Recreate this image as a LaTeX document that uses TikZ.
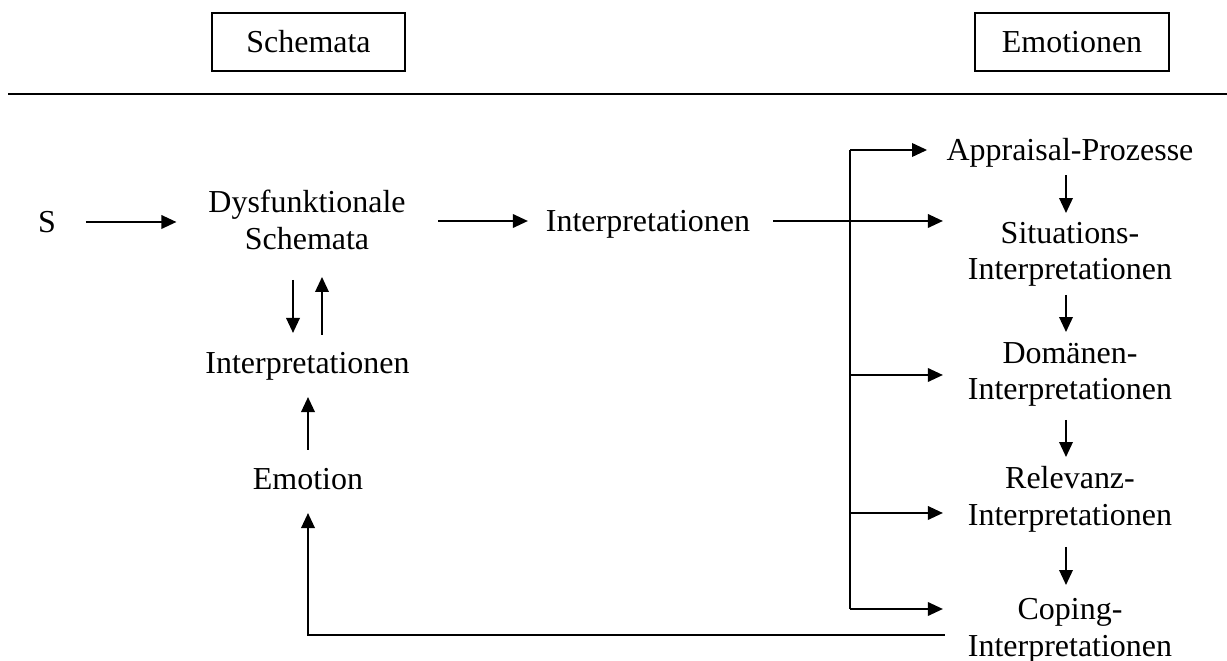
\documentclass[tikz,border=0pt]{standalone}
\usepackage{fontspec}
\setmainfont{Liberation Serif}
\usetikzlibrary{arrows.meta}
\newcommand\myline[1]{\raisebox{0pt}[12pt][0pt]{#1}}
\begin{document}
\begin{tikzpicture}[x=0.02cm,y=-0.02cm,
  txt/.style={inner sep=0pt, outer sep=0pt, align=center, font=\fontsize{18.2}{21}\selectfont},
  hdr/.style={txt, draw, line width=1.1pt, minimum height=1.16cm},
  ln/.style={line width=1.1pt},
  arr/.style={ln, -{Triangle[length=0.3cm,width=0.27cm]}}]
\useasboundingbox (0,0) rectangle (1227,661);

% header
\node[hdr, minimum width=3.86cm] (hs) at (308.5,42) {\myline{Schemata}};
\node[hdr, minimum width=3.88cm] (he) at (1072,42) {\myline{Emotionen}};
\coordinate (rl) at (8,94);
\coordinate (rr) at (1227,94);
\draw[line width=1.4pt] (rl) -- (rr);

% nodes
\node[txt] (S) at (47,222) {\myline{S}};
\node[txt] (dys) at (307,220.5) {\myline{Dysfunktionale}\\\myline{Schemata}};
\node[txt] (intm) at (648,221) {\myline{Interpretationen}};
\node[txt] (intl) at (307.5,363) {\myline{Interpretationen}};
\node[txt] (emo) at (308,479) {\myline{Emotion}};
\node[txt] (app) at (1070,150) {\myline{Appraisal-Prozesse}};
\node[txt] (sit) at (1070,251) {\myline{Situations-}\\\myline{Interpretationen}};
\node[txt] (dom) at (1070,371) {\myline{Domänen-}\\\myline{Interpretationen}};
\node[txt] (rel) at (1070,496.5) {\myline{Relevanz-}\\\myline{Interpretationen}};
\node[txt] (cop) at (1070,627.5) {\myline{Coping-}\\\myline{Interpretationen}};

% main row
\draw[arr, shorten <=0.6cm, shorten >=0.64cm] (S.east) -- (S.east -| dys.west);
\draw[arr, shorten <=0.65cm, shorten >=0.36cm] (dys.east |- intm.west) -- (intm.west);
\draw[arr, shorten <=0.46cm, shorten >=0.5cm] (intm.east) -- (intm.east -| sit.west);

% branch
\coordinate (bx) at (850,221);
\coordinate (tapp) at (app.west);
\coordinate (tdom) at ([yshift=-0.08cm]dom.west);
\coordinate (trel) at ([yshift=-0.33cm]rel.west);
\coordinate (tcop) at ([yshift=0.37cm]cop.west);
\draw[ln] (bx |- tapp) -- (bx |- tcop);
\draw[arr, shorten >=0.39cm] (bx |- tapp) -- (tapp);
\draw[arr, shorten >=0.5cm] (bx |- tdom) -- (tdom);
\draw[arr, shorten >=0.5cm] (bx |- trel) -- (trel);
\draw[arr, shorten >=0.5cm] (bx |- tcop) -- (tcop);

% right column
\draw[arr, shorten <=0.29cm, shorten >=0.18cm] ([xshift=-0.08cm]app.south) -- ([xshift=-0.08cm]sit.north);
\draw[arr, shorten <=0.3cm, shorten >=0.2cm] ([xshift=-0.08cm]sit.south) -- ([xshift=-0.08cm]dom.north);
\draw[arr, shorten <=0.4cm, shorten >=0.21cm] ([xshift=-0.08cm]dom.south) -- ([xshift=-0.08cm]rel.north);
\draw[arr, shorten <=0.43cm, shorten >=0.27cm] ([xshift=-0.08cm]rel.south) -- ([xshift=-0.08cm]cop.north);

% left column
\draw[arr, shorten <=0.61cm, shorten >=0.39cm] ([xshift=-0.28cm]dys.south) -- ([xshift=-0.28cm]dys.south |- intl.north);
\draw[arr, shorten <=0.35cm, shorten >=0.55cm] ([xshift=0.3cm]dys.south |- intl.north) -- ([xshift=0.3cm]dys.south);
\draw[arr, shorten <=0.37cm, shorten >=0.47cm] (emo.north) -- (emo.north |- intl.south);

% feedback
\coordinate (fb) at ([xshift=-0.46cm, yshift=-0.15cm]cop.west);
\draw[arr, shorten >=0.47cm] (fb) -| (emo.south);
\end{tikzpicture}
\end{document}
